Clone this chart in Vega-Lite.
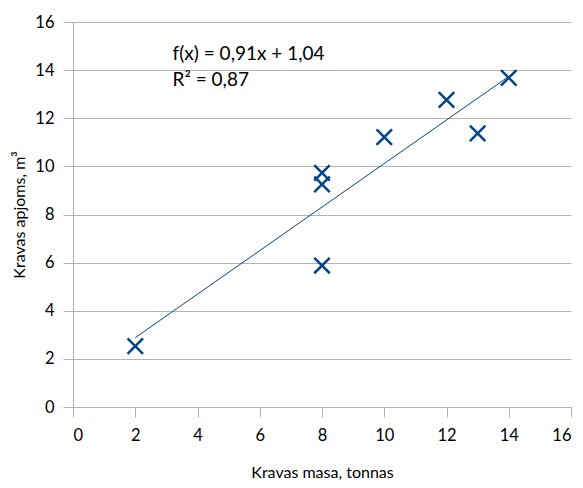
{
  "$schema": "https://vega.github.io/schema/vega-lite/v6.json",
  "width": 498,
  "height": 385,
  "autosize": {"type": "none"},
  "padding": {"left": 73, "top": 22, "right": 12, "bottom": 81},
  "background": "white",
  "config": {
    "view": {"stroke": null},
    "font": "Lato",
    "axis": {
      "labelFont": "Lato",
      "titleFont": "Lato",
      "labelFontSize": 16.5,
      "titleFontSize": 16,
      "labelColor": "#000000",
      "titleColor": "#000000",
      "titleFontWeight": "normal",
      "domainColor": "#b3b3b3",
      "tickColor": "#b3b3b3",
      "gridColor": "#b3b3b3",
      "domainWidth": 1,
      "tickWidth": 1,
      "gridWidth": 1
    }
  },
  "data": {
    "values": [
      {"x": 2, "y": 2.53},
      {"x": 8, "y": 5.88},
      {"x": 8, "y": 9.25},
      {"x": 8, "y": 9.73},
      {"x": 10, "y": 11.22},
      {"x": 12, "y": 12.76},
      {"x": 13, "y": 11.37},
      {"x": 14, "y": 13.68}
    ]
  },
  "layer": [
    {
      "transform": [{"regression": "y", "on": "x", "extent": [2, 14]}],
      "mark": {"type": "line", "color": "#004586", "strokeWidth": 1},
      "encoding": {
        "x": {"field": "x", "type": "quantitative"},
        "y": {"field": "y", "type": "quantitative"}
      }
    },
    {
      "mark": {
        "type": "point",
        "shape": "M-1,-1L1,1M-1,1L1,-1",
        "filled": false,
        "size": 240,
        "strokeWidth": 2.5,
        "color": "#004586",
        "opacity": 1
      },
      "encoding": {
        "x": {
          "field": "x",
          "type": "quantitative",
          "scale": {"domain": [0, 16], "nice": false},
          "axis": {
            "title": "Kravas masa, tonnas",
            "values": [0, 2, 4, 6, 8, 10, 12, 14, 16],
            "grid": false,
            "tickSize": 10,
            "labelPadding": 10,
            "titlePadding": 21
          }
        },
        "y": {
          "field": "y",
          "type": "quantitative",
          "scale": {"domain": [0, 16], "nice": false},
          "axis": {
            "title": "Kravas apjoms, m³",
            "values": [0, 2, 4, 6, 8, 10, 12, 14, 16],
            "grid": true,
            "tickSize": 10,
            "labelPadding": 9,
            "titlePadding": 7
          }
        }
      }
    },
    {
      "data": {"values": [{"x": 3.2, "y": 14.65, "t": "f(x) = 0,91x + 1,04"}, {"x": 3.2, "y": 13.6, "t": "R² = 0,87"}]},
      "mark": {"type": "text", "align": "left", "baseline": "middle", "fontSize": 19, "font": "Lato", "color": "#000000"},
      "encoding": {
        "x": {"field": "x", "type": "quantitative"},
        "y": {"field": "y", "type": "quantitative"},
        "text": {"field": "t"}
      }
    }
  ]
}
